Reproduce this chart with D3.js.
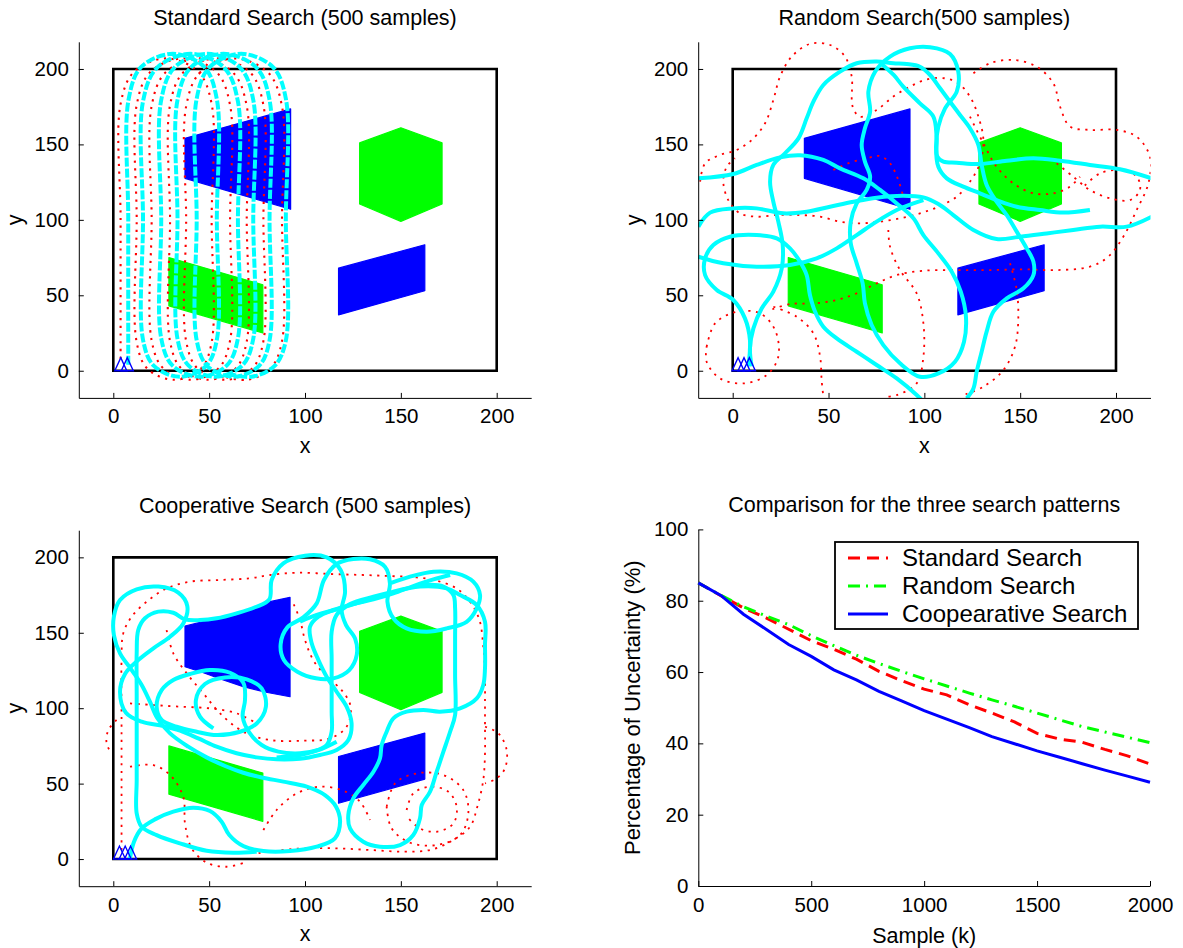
<!DOCTYPE html>
<html><head><meta charset="utf-8">
<script src="https://cdn.jsdelivr.net/npm/d3@7/dist/d3.min.js"></script>
<style>html,body{margin:0;padding:0;background:#fff;}</style>
</head><body>
<svg id="chart" width="1183" height="948" xmlns="http://www.w3.org/2000/svg"></svg>
<script>
// ---------------- DATA ----------------
const mapTicks = [0, 50, 100, 150, 200];
const sampleTicks = [0, 500, 1000, 1500, 2000];
const uncTicks = [0, 20, 40, 60, 80, 100];
const panelTitles = ["Standard Search (500 samples)", "Random Search(500 samples)", "Cooperative Search (500 samples)", "Comparison for the three search patterns"];
const xLabelMap = "x", yLabelMap = "y";
const xLabelCmp = "Sample (k)", yLabelCmp = "Percentage of Uncertainty (%)";
const seriesNames = ["Standard Search", "Random Search", "Coopearative Search"];

const searchArea = [[0, 0], [200, 0], [200, 200], [0, 200]];
const greenHexagon = [[150, 161], [171.5, 151], [171.5, 110.5], [150, 99], [128.5, 110.5], [128.5, 151]];
const blueTopQuad = [[37.4, 154], [92.5, 173.5], [92.5, 107], [37.4, 127.5]];
const blueTopCoop = [[37.4, 154.5], [50.4, 158.5], [64.3, 161.8], [74.8, 166.9], [81.7, 170.6], [92.2, 173.5], [92.2, 107.6], [78.3, 110.9], [67.8, 114.3], [57.4, 118.7], [47, 123.5], [37.4, 127.5]];
const blueBottomQuad = [[117.5, 68], [162.5, 83.5], [162.5, 53], [117.5, 37]];
const greenBottomQuad = [[29, 75], [78, 57], [78, 25], [29, 43]];

const stdStarts = [[3.9, 0], [7.3, 0]];
const rndStarts = [[2.8, 0], [5.9, 0], [8.7, 0]];
const coopStarts = [[3.2, 0], [6.2, 0], [9, 0]];

// Standard search trajectories
const stdCyan = [[7.8,4],[7.8,100],[8,180],[14.7,201.5],[31,210],[47.3,201.5],[54,180],[54,100],[54,20.5],[48.4,3.2],[34.8,-4],[21.2,3.2],[15.5,20.5],[15.5,100],[15.5,178.5],[22.8,200.8],[40.3,210],[57.8,200.8],[65,178.5],[65,100],[65,21.4],[59.1,3.4],[45,-4],[30.9,3.4],[25,21.4],[25,100],[25,179.5],[32,201.1],[49,210],[66,201.1],[73,179.5],[73,100],[73,21.1],[67.2,3.4],[53.3,-4],[39.3,3.4],[33.5,21.1],[33.5,100],[33.5,179.5],[40.5,201.1],[57.5,210],[74.5,201.1],[81.5,179.5],[81.5,100],[81.5,20.1],[75.9,3.1],[62.5,-4],[49.1,3.1],[43.5,20.1],[43.5,100],[43.5,180.4],[50.3,201.3],[66.8,210],[83.2,201.3],[90,180.4],[90,100],[90,20],[84,3],[72,-4],[60,-2]];
const stdRed = [[3.8,8],[3.8,100],[3.8,176.8],[10.8,198.1],[27.6,207],[44.3,198.1],[51.3,176.8],[51.3,100],[51.3,18.8],[45.6,1.2],[31.8,-6],[17.9,1.2],[12.2,18.8],[12.2,100],[12.2,176.1],[19.3,198],[36.6,207],[53.8,198],[60.9,176.1],[60.9,100],[60.9,20],[54.9,1.6],[40.5,-6],[26,1.6],[20,20],[20,100],[20,175.5],[27.3,197.8],[44.8,207],[62.3,197.8],[69.6,175.5],[69.6,100],[69.6,19.4],[63.7,1.4],[49.6,-6],[35.5,1.4],[29.6,19.4],[29.6,100],[29.6,176.1],[36.7,198],[54,207],[71.2,198],[78.3,176.1],[78.3,100],[78.3,19.6],[72.4,1.5],[58.2,-6],[43.9,1.5],[38,19.6],[38,100],[38,175.2],[45.3,197.7],[63,207],[80.7,197.7],[88,175.2],[88,100],[88,19.6],[82,1.5],[70,-6],[58,-4]];

// Random search trajectories
const rndCyanA = [[8.2,3],[9,20.3],[6.4,34.7],[0.3,46.9],[-8.3,53.5],[-14.4,63.4],[-14.4,74.5],[-10.1,83.3],[-1.4,88.8],[12.5,89.9],[23,87.7],[29.9,81.1],[35.1,72.3],[38.6,63.4],[40.3,50.2],[43,39.1],[47.3,29.2],[54.3,21.4],[64.7,12.6],[75.1,3.8],[85.6,-5.1],[96,-16.1],[98.6,-19.4]];
const rndCyanB = [[9.9,3],[9,14.8],[10.8,28.1],[15.1,41.3],[21.2,52.4],[25.6,67.8],[26.1,83.3],[23.8,98.8],[21.2,112],[19.5,125.3],[21.2,136.4],[27.3,144.1],[34.3,154],[38.6,167.3],[42.1,178.3],[47.3,189.4],[56,198.2],[64.7,203.8],[75.1,204.9],[83.8,203.8],[90.8,203.3],[97.7,201.5],[103,196],[108.2,187.2],[113.4,178.3],[118.6,169.5],[123.8,160.7],[128.2,149.6],[129.9,136.4],[132.5,123.1],[137.7,112],[143,103.2],[148.2,92.2],[153.4,81.1],[156.9,72.3],[156.9,63.4],[151.7,54.6],[143,48],[136,39.1],[132.5,25.9],[129.9,12.6],[127.3,-0.7],[125.6,-11.7],[122.1,-18.3]];
const rndCyanH = [[78,203],[84,196],[89,188.3],[97.7,177.2],[104.7,168.4],[106.4,155.1],[106.8,141.9],[109.9,138.6],[116.9,137.9],[129,137],[143,139.2],[156.9,140.8],[170.8,139.2],[186.4,136.4],[202.1,133.5],[218.6,127.5]];
const rndCyanC = [[-17.9,127.5],[0.3,130.4],[12.5,136.4],[24.7,141.4],[35.1,142.8],[47.3,139.7],[56,134.1],[68.2,127.5],[76.9,119.8],[85.6,110.9],[94.3,101],[99.5,89.9],[107.3,77.8],[114.3,65.6],[119,52.4],[121.7,35.8],[120.7,19.2],[116,6],[107.3,-1.8],[97.7,-4],[87.3,4.9],[78.6,17],[72.5,30.3],[69,44.6],[67.8,57.9],[64.7,71.2],[61.6,84.4],[61.6,98.8],[64.7,110.9],[69.9,119.8],[71.7,128.6],[69,138.6],[67.3,149.6],[69,160.7],[71.7,171.7],[70.8,185],[74.3,198.2],[82.1,208.2],[92.5,213.7],[103,214.4],[113.4,209.9],[117.7,198.2],[116.9,185],[110.8,173.9],[107.3,161.8],[106.1,148.5],[107.3,135.2],[111.7,127.5],[120.3,122],[129,117.6],[137.7,113.1],[148.2,108.7],[160.3,106.5],[172.5,104.8],[186.4,106.5]];
const rndCyanS = [[-17.9,95.5],[-11.8,104.8],[0.3,107.6],[12.5,107.6],[26.4,104.3],[38.6,105.4],[50.8,108.7],[63,112],[75.1,114.7],[89,116],[99.5,114.9],[107.3,110.5],[115.1,103.2],[125.6,93.3],[137.7,87.3],[149.9,88.8],[163.8,91],[177.7,93.3],[191.7,95.5],[205.6,95.5],[218.6,102.1]];
const rndCyanE = [[-17.9,75.6],[-4.9,71.2],[12.5,69],[29.9,70.1],[43.8,74.5],[54.3,81.1],[64.7,89.9],[75.1,98.8],[85.6,106.5],[94.3,110.9],[99.5,113.1]];
const rndRed1 = [[-17,125.3],[-14.4,137.5],[-6.6,143],[2.1,146.3],[9.9,152.9],[16.9,164],[21.2,179.4],[24.7,194.9],[30.8,208.2],[40.3,216.6],[50.8,215.9],[58.6,208.2],[62.1,194.9],[62.6,175],[66.4,168.4],[75.1,172.8],[83.8,181.7],[92.5,188.3],[101.2,193.1],[110.8,193.8],[117.7,190.5],[123.8,181.7],[128.2,168.4],[130.8,152.9],[129,137.5],[123.8,125.3],[116.9,115.4],[107.3,108.7],[97.7,104.3],[87.3,101],[76.9,98.8],[66.4,97.7],[56,98.8],[45.6,102.1],[35.1,103.2],[23,103.2],[12.5,102.1],[3.8,104.3],[-2.3,113.1],[-4.9,125.3],[-3.1,135.2],[1.2,140.8]];
const rndRed2 = [[125.6,197.1],[134.3,203.8],[146.4,206],[158.6,201.5],[167.3,190.5],[170.8,175],[176,161.8],[186.4,159.6],[200.3,159.6],[210.8,155.1],[217.7,141.9],[216.9,124.2],[210.8,106.5],[203.8,88.8],[196,75.6],[186.4,69],[169,66.7],[151.7,67.2],[134.3,66.7],[116.9,66.7],[99.5,66.3],[85.6,63.4],[75.1,57.9],[64.7,51.3],[54.3,46.9],[42.1,44.6],[29.9,44.2],[19.5,40.2]];
const rndRed3 = [[169,137.5],[177.7,128.6],[186.4,119.8],[196.9,114.3],[207.3,113.1],[212.5,119.8],[210.8,128.6],[202.1,133],[191.7,130.8],[183,121.9]];
const rndRed4 = [[123.8,168.4],[130.8,150.7],[137.7,135.2],[146.4,124.2],[156.9,117.6],[167.3,117.6],[176,122],[181.2,128.6]];
const rndRed5 = [[-13.6,15.9],[-9.2,31.4],[2.1,39.1],[14.3,38],[22.1,27],[23.8,9.3],[17.7,-2.9],[5.6,-8.4],[-6.6,-5.1],[-13.6,6],[-13.6,15.9]];
const rndRed6 = [[21.2,42.4],[33.4,35.8],[42.1,24.8],[45.6,9.3],[46.4,-6.2],[47.3,-17.2]];
const rndRed7 = [[81.2,93.3],[82.1,82.2],[87.3,66.7],[96,51.3],[99.5,31.4],[99.5,9.3],[96,-8.4],[85.6,-16.1],[80.3,-17.2]];
const rndRed8 = [[144.7,71.2],[148.2,53.5],[149,33.6],[147.3,15.9],[141.2,0.4],[130.8,-10.6],[120.3,-16.1]];
const rndRed9 = [[52.5,133],[61.2,137.9],[69.9,140.8],[76.9,142.3],[82.1,137.5],[86.4,126.4],[89,115.4]];

// Cooperative search trajectories
const coopCyan1 = [[8.7,0.4],[10.8,11.5],[14.8,20.3],[21.7,26.3],[31.3,31.4],[41.7,34],[50.4,31.8],[56.5,24.8],[60.5,15.9],[67.8,8.6],[78.3,5.3],[92.2,5.3],[106.1,8.2],[115.6,13.7],[118.3,24.8],[116.2,34.7],[110.4,42.4],[100.9,48],[88.7,51.3],[77.4,54.1],[67.8,57.2],[58.3,61.7],[48.7,67.4],[39.1,74.5],[29.6,83.3],[23,93.3],[19.1,104.3],[14.8,115.4],[9.6,125.3],[3.5,136.4],[0.3,148.5],[0.3,160.7],[3.5,171.7],[12.2,178.8],[23.5,180.6],[33.9,176.6],[38.6,167.7],[36.5,156.2],[29.6,147.4],[20.9,139.7],[13,131.9],[6.1,122.7],[3.5,110.9],[6.6,97],[14.8,91.1],[26.1,88.2],[34.8,85.1],[44.3,80],[53.9,74.5],[64.3,70.1],[74.8,67.4],[85.2,66.1],[97.4,66.5],[107.8,69],[116.5,72.3],[122.6,78.9],[124.3,89.9],[121.7,101],[116.5,110.9],[111.3,120.9],[107,131.9],[103.5,143],[102.6,154],[107,160.7],[114.8,165.1],[125.2,169],[135.7,172.1],[146.1,176.1],[156.5,181],[167,185.4],[175.7,188.3]];
const coopCyan2 = [[74.8,4.9],[62.6,4.2],[48.7,5.5],[34.8,10.4],[22.6,15.9],[14.8,21.4],[12.2,30.3],[12.2,52.4],[12.2,81.1],[12.2,109.8],[12.2,136.4],[13,151.8],[16.5,159.6],[23.5,164],[31.3,163.3],[37.4,158.9],[45.2,158.4],[53.9,159.6],[64.3,162.9],[73.9,166.9],[81.4,172.1],[82.6,185],[88.7,196],[100,201.1],[111.3,200],[118.6,191.6],[120.9,177.2],[119.1,165.1],[121.4,155.1],[126.1,146.3],[127,135.3],[123.1,125.3],[114.8,119.8],[105.7,119.8],[96,124.2],[89,131.9],[87.3,142.5],[90.8,153.6],[99.1,160.2],[106.1,169.5],[109.9,185],[116.5,195.6],[125.2,198.9],[133.9,198.7],[141.7,193.8],[144.3,182.7],[143,170.6],[146.1,159.6],[153,152.9],[163.5,150.7],[173.9,152.9],[184.3,157.3],[189.6,166.2],[191.3,175],[187.8,183.9],[179.1,189.4],[167,190.5],[154.8,187.2],[144.3,182.7]];
const coopCyan3 = [[97.4,157.3],[106.1,161.8],[118.3,166.2],[132.2,171.7],[146.1,177.2],[160,180.6],[173.9,179.4],[180.9,175],[189.6,168.4],[193.9,157.3],[193.9,141.9],[193.9,126.4],[193,115.4],[189.6,106.5],[180.9,99.9],[170.4,97.7],[161.7,98.8],[153,97.7],[146.1,93.3],[142.6,84.4],[140,75.6],[139.1,66.7],[135.7,57.9],[130.4,49.1],[125.2,40.2],[122.6,29.2],[123.5,20.3],[130.4,11.5],[139.1,8.2],[149.6,9.3],[156.5,15.9],[160,27],[160.9,35.8],[165.2,44.6],[168.7,57.9],[172.2,71.2],[175.7,84.4],[178.3,95.5],[178.3,122],[178.3,147.4],[178.3,166.2],[177.4,175],[172.2,180.6],[163.5,181.7],[149.6,178.3],[135.7,173.9],[123.5,169],[116.5,161.8],[113.9,150.7],[113.9,133],[113.9,115.4],[113.9,97.7],[113.9,84.4],[111.3,75.6],[104.3,71.2],[97.4,69],[85.2,67.4]];
const coopCyan4 = [[116.5,77.8],[107,72.3],[97.4,70.1],[86.1,71.2],[77.4,75.6],[71,83.8],[67.5,94.4],[68.7,105.4],[67.8,116.9],[60.9,123.5],[50.4,125.3],[40,122.7],[31.3,118.7],[25.2,112],[22.6,101],[25.2,92.2],[33,87.7],[43.5,84.4],[53.9,82.2],[66.1,84.4],[74.8,89.9],[79.6,101],[77.4,113.1],[69.6,119.1],[58.3,120.4],[47.8,116],[43.1,105.4],[45.2,94.4],[52.2,86.6]];
const coopRed1 = [[4.3,6],[4.3,48],[4.3,92.2],[4.3,131.9],[5.2,149.6],[9.6,160.7],[17.4,170.6],[27.8,179.4],[40,183.9],[55.7,185],[71.3,186.1],[81.7,188.3],[95.7,189.8],[114.8,188.9],[130.4,188.3],[144.3,187.6],[158.3,186.7],[168.7,184.5],[179.1,179.4],[186.1,170.6],[191,158.5],[193,140.8],[193.9,123.1],[193.9,105.4],[193.9,87.7],[193.9,70.1],[193,52.4],[189.9,34.7],[186.1,21.4],[177.4,12.6],[165.2,6],[151.3,4.9],[133.9,6],[116.5,7.1],[99.1,7.1],[85.2,5.5],[74.8,3.8]];
const coopRed2 = [[142.6,34.7],[147,50.2],[158.3,56.8],[172.2,55.7],[182.6,45.7],[185.2,30.3],[180.9,15.9],[168.7,9.3],[154.8,10.8],[145.2,20.3],[142.6,34.7]];
const coopRed3 = [[153,32.5],[156.5,43.5],[165.2,48],[174.8,44.6],[179.1,34.7],[177.4,23.6],[168.7,18.1],[160,20.3],[153.9,27]];
const coopRed4 = [[193.9,87.7],[200.9,83.3],[205.2,72.3],[204.3,60.1],[200,53.5],[193.9,50.2]];
const coopRed5 = [[1.7,92.2],[-2.6,85.5],[-3.5,76.7],[-0.9,70.1]];
const coopRed6 = [[27.8,151.8],[31.3,136.4],[38.3,123.1],[47,109.8],[55.7,96.6],[67.8,84.4],[81.7,78.9],[99.1,78.5],[113,80],[121.7,87.7],[123.8,101],[119.1,112],[111.3,120.9],[104.3,131.9],[100,145.2],[97.4,158.5],[93.9,169.5]];
const coopRed7 = [[8.7,103.2],[20.9,102.1],[34.8,101],[50.4,99.9],[64.3,96.6],[74.8,89.9]];
const coopRed8 = [[8.7,61.2],[20.9,62.3],[29.6,55.7],[36.5,41.3],[37.4,23.6],[40.9,7.1],[48.7,-2.4],[59.1,-5.1],[69.6,-1.8]];
const coopRed9 = [[78.3,19.2],[85.2,32.5],[95.7,43.5],[107.8,48],[120,45.3],[128.7,38],[133.9,25.9]];

// Comparison curves
const samples = [0,100,200,300,400,500,600,700,800,900,1000,1100,1200,1300,1400,1500,1600,1700,1800,1900,2000];
const standardUnc = [85,81.4,78,75.2,72,68.8,66.4,63.6,60.2,57.6,55.2,53.6,50.8,48.5,46,42.8,41.2,40.3,38.3,36.5,34.2];
const randomUnc = [85,81.5,78.3,75.7,73.3,70.2,67.4,64.7,62.4,60.2,58.1,56.1,54.1,52.2,50.4,48.5,46.6,44.7,43.2,41.7,40.2];
const coopUnc = [85,81.5,76.2,72,67.7,64.4,60.6,57.8,54.6,51.9,49.2,46.8,44.4,41.9,39.9,37.9,36.1,34.3,32.5,30.8,29.1];

// ---------------- DRAWING ----------------
const FONT = "'Liberation Sans', Arial, Helvetica, sans-serif";
const CYAN = "#00ffff", RED = "#ff0000", GREEN = "#00ff00", BLUE = "#0000ff";
const TITLE_FS = 21.5, LABEL_FS = 21.5, TICK_FS = 20.5;
const svg = d3.select("#chart");
svg.append("rect").attr("width", 1183).attr("height", 948).attr("fill", "#fff");
const defs = svg.append("defs");

function styleAxis(sel) {
  sel.selectAll(".domain").attr("stroke", "#000").attr("stroke-width", 1);
  sel.selectAll(".tick line").attr("stroke", "#000").attr("stroke-width", 1);
  sel.selectAll(".tick text").attr("font-family", FONT).attr("font-size", TICK_FS).attr("fill", "#000");
}

function drawMap(idx, box, o) {
  const x = d3.scaleLinear().domain([-18, 218]).range([box.x0, box.x1]);
  const y = d3.scaleLinear().domain([-18, 218]).range([box.y1, box.y0]);
  const g = svg.append("g");
  const cid = "clip" + idx;
  defs.append("clipPath").attr("id", cid).append("rect")
    .attr("x", box.x0).attr("y", box.y0).attr("width", box.x1 - box.x0).attr("height", box.y1 - box.y0);
  const plot = g.append("g").attr("clip-path", `url(#${cid})`);
  const poly = pts => pts.map(p => [x(p[0]), y(p[1])].join(",")).join(" ");
  plot.append("polygon").attr("points", poly(searchArea)).attr("fill", "none").attr("stroke", "#000").attr("stroke-width", 2.6);
  const shapes = [[o.blueTop, BLUE], [greenHexagon, GREEN], [blueBottomQuad, BLUE], [greenBottomQuad, GREEN]];
  shapes.forEach(([pts, c]) => plot.append("polygon").attr("points", poly(pts)).attr("fill", c).attr("stroke", c).attr("stroke-width", 1.2).attr("stroke-linejoin", "round"));
  const line = d3.line().x(d => x(d[0])).y(d => y(d[1])).curve(d3.curveCatmullRom.alpha(0.5));
  o.red.forEach(s => plot.append("path").attr("d", line(s)).attr("fill", "none").attr("stroke", RED).attr("stroke-width", o.redWidth || 1.8).attr("stroke-dasharray", "2.2,5.5"));
  o.cyan.forEach(s => plot.append("path").attr("d", line(s)).attr("fill", "none").attr("stroke", CYAN).attr("stroke-width", 4).attr("stroke-linejoin", "round").attr("stroke-dasharray", o.cyanDash || null));
  o.starts.forEach(p => {
    const cx = x(p[0]), cy = y(p[1]);
    plot.append("path").attr("d", `M${cx - 6},${cy} L${cx},${cy - 13} L${cx + 6},${cy} Z`).attr("fill", "none").attr("stroke", BLUE).attr("stroke-width", 1.4);
  });
  const ax = g.append("g").attr("transform", `translate(0,${box.y1})`)
    .call(d3.axisBottom(x).tickValues(mapTicks).tickFormat(d3.format("d")).tickSizeInner(-5).tickSizeOuter(0).tickPadding(11));
  styleAxis(ax);
  const ay = g.append("g").attr("transform", `translate(${box.x0},0)`)
    .call(d3.axisLeft(y).tickValues(mapTicks).tickFormat(d3.format("d")).tickSizeInner(-5).tickSizeOuter(0).tickPadding(10));
  styleAxis(ay);
  const cx = (box.x0 + box.x1) / 2;
  g.append("text").attr("x", cx).attr("y", box.y0 - 17).attr("text-anchor", "middle")
    .attr("font-family", FONT).attr("font-size", TITLE_FS).text(o.title);
  g.append("text").attr("x", cx).attr("y", box.y1 + 55).attr("text-anchor", "middle")
    .attr("font-family", FONT).attr("font-size", LABEL_FS).text(xLabelMap);
  g.append("text").attr("transform", `translate(${box.x0 - 57},${(box.y0 + box.y1) / 2}) rotate(-90)`).attr("text-anchor", "middle")
    .attr("font-family", FONT).attr("font-size", LABEL_FS).text(yLabelMap);
}

drawMap(0, {x0: 78.8, x1: 531.2, y0: 41.8, y1: 397.9}, {
  title: panelTitles[0], blueTop: blueTopQuad, red: [stdRed], cyan: [stdCyan], starts: stdStarts, cyanDash: "9,2", redWidth: 2.1
});
drawMap(1, {x0: 698.2, x1: 1150.5, y0: 41.8, y1: 397.9}, {
  title: panelTitles[1], blueTop: blueTopQuad,
  red: [rndRed1, rndRed2, rndRed3, rndRed4, rndRed5, rndRed6, rndRed7, rndRed8, rndRed9],
  cyan: [rndCyanA, rndCyanB, rndCyanH, rndCyanC, rndCyanS, rndCyanE], starts: rndStarts
});
drawMap(2, {x0: 78.8, x1: 531.2, y0: 530.2, y1: 886.2}, {
  title: panelTitles[2], blueTop: blueTopCoop,
  red: [coopRed1, coopRed2, coopRed3, coopRed4, coopRed5, coopRed6, coopRed7, coopRed8, coopRed9],
  cyan: [coopCyan1, coopCyan2, coopCyan3, coopCyan4], starts: coopStarts
});

// Comparison panel
(function () {
  const box = {x0: 698.3, x1: 1150, y0: 529.4, y1: 886};
  const x = d3.scaleLinear().domain([0, 2000]).range([box.x0, box.x1]);
  const y = d3.scaleLinear().domain([0, 100]).range([box.y1, box.y0]);
  const g = svg.append("g");
  const ax = g.append("g").attr("transform", `translate(0,${box.y1})`)
    .call(d3.axisBottom(x).tickValues(sampleTicks).tickFormat(d3.format("d")).tickSizeInner(-5).tickSizeOuter(0).tickPadding(11));
  styleAxis(ax);
  const ay = g.append("g").attr("transform", `translate(${box.x0},0)`)
    .call(d3.axisLeft(y).tickValues(uncTicks).tickFormat(d3.format("d")).tickSizeInner(-5).tickSizeOuter(0).tickPadding(10));
  styleAxis(ay);
  const series = [
    {name: seriesNames[0], vals: standardUnc, color: RED, dash: "12,7"},
    {name: seriesNames[1], vals: randomUnc, color: GREEN, dash: "12,6,2,6"},
    {name: seriesNames[2], vals: coopUnc, color: BLUE, dash: null}
  ];
  const line = d3.line().x((d, i) => x(samples[i])).y(d => y(d));
  series.forEach(s => g.append("path").attr("d", line(s.vals)).attr("fill", "none")
    .attr("stroke", s.color).attr("stroke-width", 3).attr("stroke-dasharray", s.dash));
  const lg = g.append("g");
  lg.append("rect").attr("x", 835).attr("y", 542).attr("width", 303).attr("height", 87)
    .attr("fill", "#fff").attr("stroke", "#000").attr("stroke-width", 1.8);
  series.forEach((s, i) => {
    const yy = 558 + i * 28;
    lg.append("line").attr("x1", 848).attr("x2", 888).attr("y1", yy).attr("y2", yy)
      .attr("stroke", s.color).attr("stroke-width", 3).attr("stroke-dasharray", s.dash);
    lg.append("text").attr("x", 902).attr("y", yy + 8).attr("font-family", FONT).attr("font-size", 24).text(s.name);
  });
  const cx = (box.x0 + box.x1) / 2;
  g.append("text").attr("x", cx).attr("y", box.y0 - 17).attr("text-anchor", "middle")
    .attr("font-family", FONT).attr("font-size", TITLE_FS).text(panelTitles[3]);
  g.append("text").attr("x", cx).attr("y", box.y1 + 57).attr("text-anchor", "middle")
    .attr("font-family", FONT).attr("font-size", LABEL_FS).text(xLabelCmp);
  g.append("text").attr("transform", `translate(640,${(box.y0 + box.y1) / 2}) rotate(-90)`).attr("text-anchor", "middle")
    .attr("font-family", FONT).attr("font-size", 22).text(yLabelCmp);
})();
</script>
</body></html>
